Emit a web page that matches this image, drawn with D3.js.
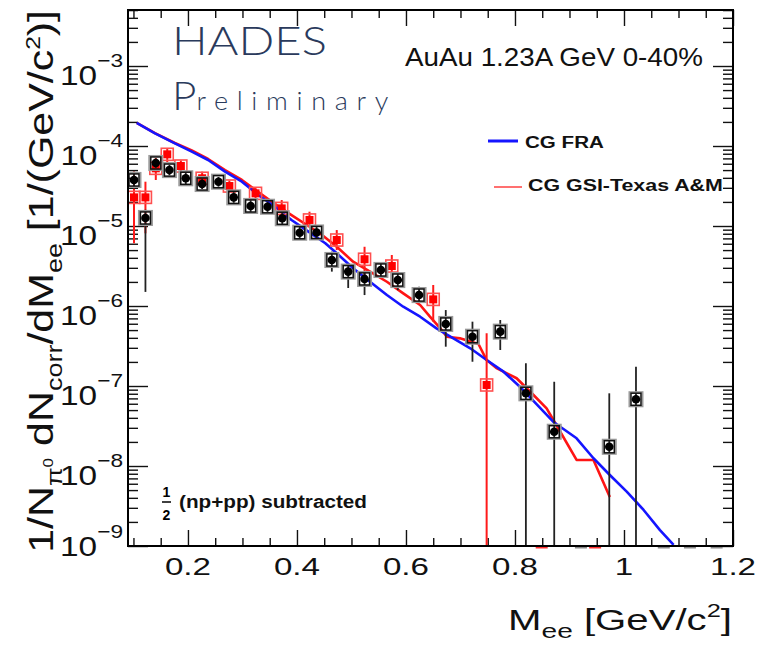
<!DOCTYPE html>
<html><head><meta charset="utf-8">
<script src="https://cdn.jsdelivr.net/npm/d3@7"></script>
<style>body{margin:0;background:#fff} svg{display:block}</style>
</head><body>
<svg id="c" width="762" height="651"></svg>
<script>
// ---------------- DATA ----------------
const xDomain = [0.09, 1.2];
const yDomain = [1e-9, 5.012e-3];
const xMajorTicks = [0.2, 0.4, 0.6, 0.8, 1.0, 1.2];
const xTickLabels = ["0.2", "0.4", "0.6", "0.8", "1", "1.2"];
const yMajorTicks = [1e-9, 1e-8, 1e-7, 1e-6, 1e-5, 1e-4, 1e-3];
const yTickExponents = ["\u22129", "\u22128", "\u22127", "\u22126", "\u22125", "\u22124", "\u22123"];

// HADES data (black)
const hadesMass = [0.101, 0.122, 0.141, 0.166, 0.196, 0.226, 0.256, 0.284, 0.315, 0.346, 0.373, 0.405, 0.436,
  0.464, 0.494, 0.524, 0.554, 0.585, 0.624, 0.673, 0.722, 0.773, 0.820, 0.872, 0.973, 1.022];
const hadesYield = [3.76e-5, 1.26e-5, 6.13e-5, 5.0e-5, 3.95e-5, 3.35e-5, 3.58e-5, 2.28e-5, 1.78e-5, 1.74e-5, 1.25e-5, 8.24e-6, 8.3e-6,
  3.76e-6, 2.69e-6, 2.18e-6, 2.82e-6, 2.11e-6, 1.37e-6, 5.96e-7, 4.13e-7, 4.78e-7, 8.1e-8, 2.68e-8, 1.74e-8, 6.83e-8];
const hadesErrLow = [2.9e-5, 1.5e-6, 5.3e-5, 4.3e-5, 3.3e-5, 2.9e-5, 3.1e-5, 1.95e-5, 1.5e-5, 1.5e-5, 1.05e-5, 6.8e-6, 6.8e-6,
  2.69e-6, 1.68e-6, 1.37e-6, 2.24e-6, 1.58e-6, 1.09e-6, 3.1e-7, 2.01e-7, 2.82e-7, 1e-11, 1e-11, 1e-11, 1e-11];
const hadesErrHigh = [4.78e-5, 1.6e-5, 7.0e-5, 5.8e-5, 4.6e-5, 3.9e-5, 4.1e-5, 2.65e-5, 2.1e-5, 2.0e-5, 1.5e-5, 1.0e-5, 1.0e-5,
  4.78e-6, 3.25e-6, 2.69e-6, 3.45e-6, 2.58e-6, 1.74e-6, 8.9e-7, 6.37e-7, 6.68e-7, 1.92e-7, 1.13e-7, 8.1e-8, 1.74e-7];
const hadesBelowRangeMass = [0.921, 1.073, 1.121, 1.170];

// second data set (red)
const redMass = [0.101, 0.122, 0.141, 0.162, 0.187, 0.226, 0.276, 0.324, 0.372, 0.423, 0.473, 0.524, 0.574, 0.650, 0.748];
const redYield = [2.28e-5, 2.28e-5, 5.26e-5, 7.87e-5, 5.62e-5, 3.95e-5, 3.16e-5, 2.56e-5, 1.66e-5, 1.19e-5, 6.68e-6, 3.84e-6, 3.16e-6, 1.21e-6, 1.03e-7];
const redErrLow = [6.08e-6, 8.1e-6, 3.76e-5, 6.31e-5, 4.8e-5, 2.96e-5, 2.7e-5, 2.15e-5, 1.13e-5, 9.8e-6, 5.0e-6, 2.32e-6, 1.74e-6, 6.37e-7, 1e-11];
const redErrHigh = [4.78e-5, 3.58e-5, 7.08e-5, 9.44e-5, 6.6e-5, 4.78e-5, 3.7e-5, 3.0e-5, 2.11e-5, 1.51e-5, 8.9e-6, 5.5e-6, 4.34e-6, 1.83e-6, 4.56e-7];
const redBelowRangeMass = [0.849, 0.947];

// model curves
const cgFraMass = [0.106, 0.1395, 0.176, 0.207, 0.237, 0.268, 0.299, 0.329, 0.360, 0.390, 0.421, 0.452, 0.473, 0.503, 0.534, 0.565,
  0.595, 0.626, 0.656, 0.687, 0.718, 0.748, 0.779, 0.809, 0.870, 0.913, 0.944, 0.974, 1.005, 1.036, 1.066, 1.091];
const cgFraYield = [1.95e-4, 1.44e-4, 1.08e-4, 8.49e-5, 6.68e-5, 4.78e-5, 3.58e-5, 2.44e-5, 1.74e-5, 1.19e-5, 8.49e-6, 6.08e-6, 4.56e-6, 2.96e-6, 2.01e-6, 1.37e-6,
  9.8e-7, 7.35e-7, 5.26e-7, 3.94e-7, 2.96e-7, 2.11e-7, 1.51e-7, 9.8e-8, 3.58e-8, 2.22e-8, 1.25e-8, 7.72e-9, 4.78e-9, 2.82e-9, 1.58e-9, 1.03e-9];
const cgTexasMass = [0.106, 0.1395, 0.176, 0.207, 0.237, 0.268, 0.299, 0.329, 0.360, 0.390, 0.421, 0.442, 0.473, 0.503, 0.534, 0.565,
  0.595, 0.626, 0.644, 0.663, 0.675, 0.699, 0.733, 0.748, 0.767, 0.803, 0.834, 0.858, 0.874, 0.913, 0.944, 0.974];
const cgTexasYield = [1.95e-4, 1.45e-4, 1.09e-4, 8.79e-5, 6.88e-5, 5.01e-5, 3.76e-5, 2.66e-5, 1.88e-5, 1.37e-5, 1.0e-5, 8.1e-6, 5.51e-6, 3.58e-6, 2.69e-6, 2.01e-6,
  1.44e-6, 1.03e-6, 7.35e-7, 5.26e-7, 4.13e-7, 3.94e-7, 3.35e-7, 2.11e-7, 1.66e-7, 1.25e-7, 7.72e-8, 5.26e-8, 3.42e-8, 1.19e-8, 1.19e-8, 4.1e-9];

const legendLabels = ["CG FRA", "CG GSI-Texas A&M"];

// ---------------- LAYOUT ----------------
const FONT = "'Liberation Sans', Arial, Helvetica, sans-serif";
const L = 128, R = 733, T = 10, B = 546;
const SYS = 1.19;
const svg = d3.select("#c");
const x = d3.scaleLinear().domain(xDomain).range([L, R]);
const y = d3.scaleLog().domain(yDomain).range([B, T]);

svg.append("defs").append("clipPath").attr("id", "clip")
  .append("rect").attr("x", L).attr("y", T).attr("width", R - L).attr("height", B - T);

function rich(parent, parts, o) {
  const t = parent.append("text")
    .attr("font-family", o.family || FONT).attr("font-size", o.size)
    .attr("font-weight", o.weight || "normal").attr("fill", o.fill || "#000")
    .attr("text-anchor", o.anchor || "start");
  parts.forEach(p => {
    const ts = t.append("tspan").text(p.t);
    if (p.size) ts.attr("font-size", p.size);
    if (p.dy) ts.attr("dy", p.dy);
    if (p.ls) ts.attr("letter-spacing", p.ls);
  });
  let s = o.sx || 1;
  if (o.width) s = o.width / t.node().getBBox().width;
  t.attr("transform", `translate(${o.x},${o.y}) rotate(${o.rotate || 0}) scale(${s},1)`);
  return t;
}

// ---------------- AXES ----------------
const xMinor = d3.range(0.1, 1.2001, 0.05).filter(v => !xMajorTicks.some(m => Math.abs(m - v) < 1e-6));
const yMinor = [];
for (let e = -9; e <= -3; e++) for (let m = 2; m <= 9; m++) { const v = m * Math.pow(10, e); if (v <= yDomain[1]) yMinor.push(v); }

function tickAxis(axis, tr, vals, size) {
  const g = svg.append("g").attr("transform", tr)
    .call(axis.tickValues(vals).tickSizeInner(size).tickSizeOuter(0).tickFormat(""));
  g.select(".domain").remove();
  g.selectAll("line").attr("stroke", "#111").attr("stroke-width", 1.4);
}
tickAxis(d3.axisBottom(x), `translate(0,${B})`, xMinor, -8);
tickAxis(d3.axisBottom(x), `translate(0,${B})`, xMajorTicks, -16);
tickAxis(d3.axisTop(x), `translate(0,${T})`, xMinor, -8);
tickAxis(d3.axisTop(x), `translate(0,${T})`, xMajorTicks, -16);
tickAxis(d3.axisLeft(y), `translate(${L},0)`, yMinor, -10);
tickAxis(d3.axisLeft(y), `translate(${L},0)`, yMajorTicks, -20);
tickAxis(d3.axisRight(y), `translate(${R},0)`, yMinor, -10);
tickAxis(d3.axisRight(y), `translate(${R},0)`, yMajorTicks, -20);

// ---------------- CURVES ----------------
const plot = svg.append("g").attr("clip-path", "url(#clip)");
const line = d3.line().x(d => x(d[0])).y(d => y(d[1]));
plot.append("path").datum(d3.zip(cgTexasMass, cgTexasYield)).attr("d", line)
  .attr("fill", "none").attr("stroke", "#ff1414").attr("stroke-width", 2.6).attr("stroke-linejoin", "round");
plot.append("path").datum(d3.zip(cgFraMass, cgFraYield)).attr("d", line)
  .attr("fill", "none").attr("stroke", "#1515ff").attr("stroke-width", 2.6).attr("stroke-linejoin", "round");

// ---------------- RED DATA ----------------
const red = redMass.map((m, i) => ({ m, v: redYield[i], lo: redErrLow[i], hi: redErrHigh[i] }));
plot.selectAll(".rbar").data(red).join("line")
  .attr("x1", d => x(d.m)).attr("x2", d => x(d.m)).attr("y1", d => y(d.hi)).attr("y2", d => y(Math.max(d.lo, 1e-10)))
  .attr("stroke", "#ff1a1a").attr("stroke-width", 2);
plot.selectAll(".rbox").data(red).join("rect")
  .attr("x", d => x(d.m) - 6).attr("width", 12)
  .attr("y", d => y(d.v * SYS)).attr("height", d => y(d.v / SYS) - y(d.v * SYS))
  .attr("fill", "none").attr("stroke", "#ff5050").attr("stroke-width", 1.6);
plot.selectAll(".rmark").data(red).join("rect")
  .attr("x", d => x(d.m) - 4).attr("y", d => y(d.v) - 4).attr("width", 8).attr("height", 8)
  .attr("fill", "#ff0000");

// ---------------- HADES DATA ----------------
const had = hadesMass.map((m, i) => ({ m, v: hadesYield[i], lo: hadesErrLow[i], hi: hadesErrHigh[i] }));
plot.selectAll(".hbar").data(had).join("line")
  .attr("x1", d => x(d.m)).attr("x2", d => x(d.m)).attr("y1", d => y(d.hi)).attr("y2", d => y(Math.max(d.lo, 1e-10)))
  .attr("stroke", "#222").attr("stroke-width", 1.8);
plot.selectAll(".hbox2").data(had).join("rect")
  .attr("x", d => x(d.m) - 6.5).attr("width", 13)
  .attr("y", d => y(d.v * SYS) - 1).attr("height", d => y(d.v / SYS) - y(d.v * SYS) + 2)
  .attr("fill", "none").attr("stroke", "#9a9a9a").attr("stroke-width", 2);
plot.selectAll(".hbox").data(had).join("rect")
  .attr("x", d => x(d.m) - 5).attr("width", 10)
  .attr("y", d => y(d.v * SYS)).attr("height", d => y(d.v / SYS) - y(d.v * SYS))
  .attr("fill", "none").attr("stroke", "#111").attr("stroke-width", 1.5);
plot.selectAll(".hdot").data(had).join("circle")
  .attr("cx", d => x(d.m)).attr("cy", d => y(d.v)).attr("r", 4.3).attr("fill", "#000");

// bins below the displayed range (box edges on the axis)
svg.selectAll(".hbelow").data(hadesBelowRangeMass).join("line")
  .attr("x1", d => x(d) - 6).attr("x2", d => x(d) + 6).attr("y1", B + 1).attr("y2", B + 1)
  .attr("stroke", "#888").attr("stroke-width", 3);
svg.selectAll(".rbelow").data(redBelowRangeMass).join("line")
  .attr("x1", d => x(d) - 6).attr("x2", d => x(d) + 6).attr("y1", B + 1).attr("y2", B + 1)
  .attr("stroke", "#ff3030").attr("stroke-width", 3);

// frame
svg.append("rect").attr("x", L).attr("y", T).attr("width", R - L).attr("height", B - T)
  .attr("fill", "none").attr("stroke", "#000").attr("stroke-width", 2);

// ---------------- TICK LABELS ----------------
xMajorTicks.forEach((t, i) => {
  rich(svg, [{ t: xTickLabels[i] }], { x: x(t), y: 575, size: 24, anchor: "middle", sx: 1.38, fill: "#111" });
});
yMajorTicks.forEach((t, i) => {
  const off = i === 0 ? 10 : 19;
  rich(svg, [{ t: "10" }, { t: yTickExponents[i], size: 19, dy: -18 }],
    { x: 123, y: y(t) + off, size: 28, anchor: "end", width: 63, fill: "#111" });
});

// ---------------- TITLES ----------------
rich(svg, [{ t: "M" }, { t: "ee", size: 21, dy: 8 }, { t: " [GeV/c", dy: -8 }, { t: "2", size: 19, dy: -13 }, { t: "]", dy: 13 }],
  { x: 732, y: 630, size: 30, anchor: "end", width: 224, fill: "#111" });

rich(svg, [{ t: "1/N" }, { t: "\u03c0", size: 22, dy: 9 }, { t: "0", size: 14, dy: -9 }, { t: " dN" },
  { t: "corr", size: 22, dy: 9 }, { t: "/dM", dy: -9 }, { t: "ee", size: 22, dy: 9 },
  { t: " [1/(GeV/c", dy: -9 }, { t: "2", size: 20, dy: -13 }, { t: ")]", dy: 13 }],
  { x: 53, y: 10, size: 35, anchor: "end", rotate: -90, width: 543, fill: "#111" });

// HADES Preliminary
rich(svg, [{ t: "HADES" }], { x: 172, y: 55, size: 39, family: "Lato, 'Liberation Sans', sans-serif", weight: 300, width: 155, fill: "#2a3a5c" });
rich(svg, [{ t: "P" }, { t: "reliminary", size: 25, ls: 8 }],
  { x: 172, y: 110, size: 39, family: "Lato, 'Liberation Sans', sans-serif", weight: 300, width: 225, fill: "#2a3a5c" });

rich(svg, [{ t: "AuAu 1.23A GeV 0-40%" }], { x: 405, y: 66, size: 26, width: 298, fill: "#111" });

// legend
svg.append("line").attr("x1", 488).attr("x2", 518).attr("y1", 141).attr("y2", 141).attr("stroke", "#1515ff").attr("stroke-width", 3);
rich(svg, [{ t: legendLabels[0] }], { x: 525, y: 148, size: 17, weight: "bold", width: 79, fill: "#111" });
svg.append("line").attr("x1", 494).attr("x2", 522).attr("y1", 187).attr("y2", 187).attr("stroke", "#ff4040").attr("stroke-width", 1.5);
rich(svg, [{ t: legendLabels[1] }], { x: 528, y: 191, size: 17, weight: "bold", width: 195, fill: "#111" });

// 1/2 (np+pp) subtracted
rich(svg, [{ t: "1" }], { x: 166.5, y: 497, size: 14, weight: "bold", anchor: "middle" });
rich(svg, [{ t: "2" }], { x: 166.5, y: 520, size: 14, weight: "bold", anchor: "middle" });
svg.append("line").attr("x1", 162).attr("x2", 171).attr("y1", 502).attr("y2", 502).attr("stroke", "#000").attr("stroke-width", 1.5);
rich(svg, [{ t: "(np+pp) subtracted" }], { x: 179, y: 508, size: 19, weight: "bold", width: 188, fill: "#111" });
</script>
</body></html>
